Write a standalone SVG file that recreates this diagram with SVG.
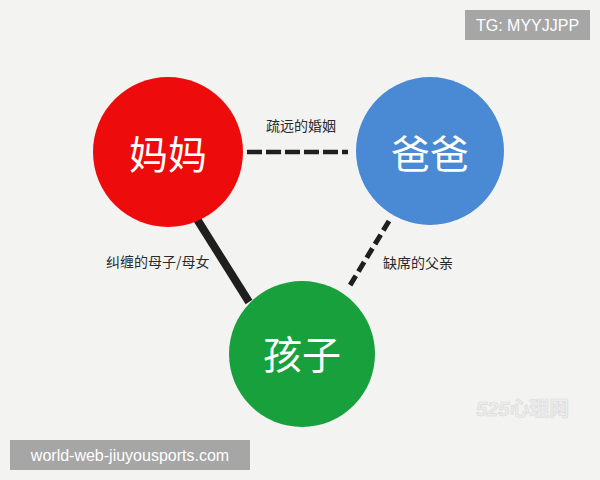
<svg xmlns="http://www.w3.org/2000/svg" width="600" height="480" viewBox="0 0 600 480">
<style>
.node-label{font-family:"Noto Sans CJK SC","Noto Sans",sans-serif;font-size:39px;fill:#ffffff;text-anchor:middle;dominant-baseline:central}
.edge-label{font-family:"Noto Sans CJK SC","Noto Sans",sans-serif;font-size:14px;fill:#2a2a2a;dominant-baseline:central}
.wm{font-family:"Liberation Sans","Noto Sans",sans-serif;font-size:16px;fill:#ffffff}
</style>
<rect width="600" height="480" fill="#f3f3f1"/>
<g id="connectors">
<line x1="195" y1="216" x2="249" y2="302" stroke="#1f1f1f" stroke-width="8"/>
<line x1="247" y1="152" x2="348" y2="152" stroke="#1f1f1f" stroke-width="4.5" stroke-dasharray="15 4"/>
<line x1="389" y1="221" x2="349" y2="287" stroke="#1f1f1f" stroke-width="5" stroke-dasharray="11 5"/>
</g>
<g id="mom">
<circle cx="168" cy="152" r="75" fill="#ee0b0b"/>
<text class="node-label" x="168" y="152">妈妈</text>
</g>
<g id="dad">
<circle cx="430" cy="151" r="74" fill="#4a8ad4"/>
<text class="node-label" x="430" y="151">爸爸</text>
</g>
<g id="child">
<circle cx="302" cy="354" r="73" fill="#17a03c"/>
<text class="node-label" x="302" y="352">孩子</text>
</g>
<g id="labels">
<text class="edge-label" x="266" y="125">疏远的婚姻</text>
<text class="edge-label" x="106" y="261">纠缠的母子/母女</text>
<text class="edge-label" x="383" y="262">缺席的父亲</text>
</g>
<g id="watermarks">
<text x="476" y="416" font-family="Liberation Sans,sans-serif" font-size="20" font-weight="bold" font-style="italic" fill="#ededed" stroke="#dcdcdc" stroke-width="0.7">525<tspan font-family="Noto Sans CJK SC,sans-serif" font-style="normal">心理网</tspan></text>
<rect x="465" y="10" width="125" height="30" fill="#a6a6a6"/>
<text class="wm" x="527.5" y="31" text-anchor="middle">TG: MYYJJPP</text>
<rect x="10" y="440" width="240" height="30" fill="#a6a6a6"/>
<text class="wm" x="130" y="461" text-anchor="middle">world-web-jiuyousports.com</text>
</g>
</svg>
